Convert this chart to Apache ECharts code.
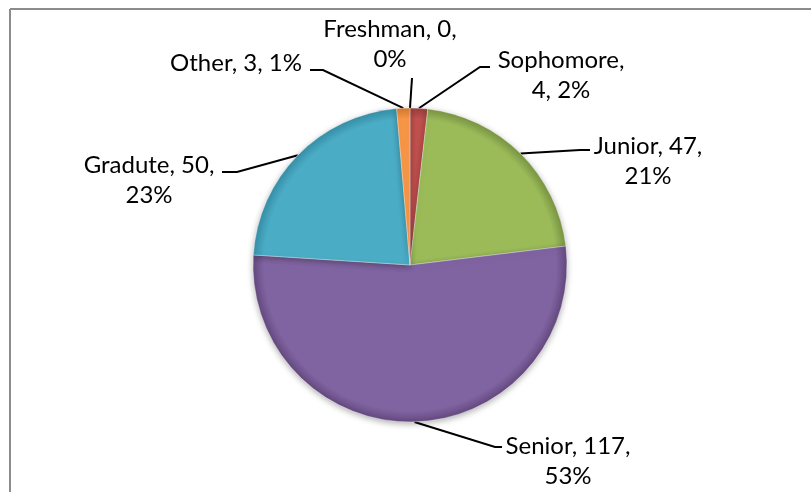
<!DOCTYPE html>
<html>
<head>
<meta charset="utf-8">
<script src="https://cdn.jsdelivr.net/npm/echarts@6/dist/echarts.min.js"></script>
<style>
html,body{margin:0;padding:0;background:#fff;}
#chart{width:811px;height:492px;}
</style>
</head>
<body>
<div id="chart"></div>
<script>
const categories = ['Freshman', 'Sophomore', 'Junior', 'Senior', 'Gradute', 'Other'];
const counts = [0, 4, 47, 117, 50, 3];
const sliceColors = ['#4f81bd', '#c0504d', '#9bbb59', '#8064a2', '#4bacc6', '#f79646'];
const sliceEdge = ['#3c6494', '#98403d', '#7a9543', '#64497f', '#3690a8', '#d47a2e'];

// label placement (layout only), same order as categories
const labelSpots = [
  { x: 390, y: 44, bend: [412, 78], end: [412, 78] },
  { x: 561, y: 75, bend: [480, 67], end: [490, 67] },
  { x: 648, y: 161, bend: [580, 150], end: [590, 150] },
  { x: 568, y: 461, bend: [495, 447], end: [502, 447] },
  { x: 149, y: 180, bend: [237, 172], end: [222, 172] },
  { x: 236, y: 63, bend: [323, 70], end: [310, 70] }
];

const CX = 410, CY = 265, R = 157;

const chart = echarts.init(document.getElementById('chart'));
const data = categories.map((name, i) => ({
  name: name,
  value: counts[i],
  itemStyle: {
    color: {
      type: 'radial', x: CX, y: CY, r: R, global: true,
      colorStops: [
        { offset: 0, color: sliceColors[i] },
        { offset: 0.93, color: sliceColors[i] },
        { offset: 1, color: sliceEdge[i] }
      ]
    }
  }
}));

chart.setOption({
  backgroundColor: '#ffffff',
  animation: false,
  graphic: [
    { type: 'line', shape: { x1: 10, y1: 9, x2: 811, y2: 9 }, style: { stroke: '#8c8c8c', lineWidth: 2 } },
    { type: 'line', shape: { x1: 10, y1: 9, x2: 10, y2: 492 }, style: { stroke: '#8c8c8c', lineWidth: 2 } }
  ],
  series: [{
    type: 'pie',
    center: [CX, CY],
    radius: R,
    startAngle: 90,
    clockwise: true,
    percentPrecision: 0,
    avoidLabelOverlap: false,
    minShowLabelAngle: 0,
    itemStyle: {
      borderColor: 'rgba(255,255,255,0.35)',
      borderWidth: 1,
      shadowBlur: 6,
      shadowColor: 'rgba(0,0,0,0.3)',
      shadowOffsetY: 2
    },
    label: {
      show: true,
      position: 'outside',
      fontFamily: 'Lato',
      fontSize: 24,
      lineHeight: 30,
      color: '#000000',
      formatter: function (p) {
        if (p.name === 'Other') return p.name + ', ' + p.value + ', ' + p.percent + '%';
        if (p.name === 'Sophomore') return p.name + ',\n' + p.value + ', ' + p.percent + '%';
        return p.name + ', ' + p.value + ',\n' + p.percent + '%';
      }
    },
    labelLine: {
      show: true,
      length: 20,
      length2: 10,
      lineStyle: { color: '#000000', width: 2 }
    },
    emphasis: { disabled: true },
    labelLayout: function (params) {
      const s = labelSpots[params.dataIndex];
      const pts = params.labelLinePoints;
      const start = pts && pts[0] ? pts[0] : s.bend;
      return {
        x: s.x, y: s.y,
        align: 'center', verticalAlign: 'middle',
        labelLinePoints: [start, s.bend, s.end]
      };
    },
    data: data
  }]
});
</script>
</body>
</html>
